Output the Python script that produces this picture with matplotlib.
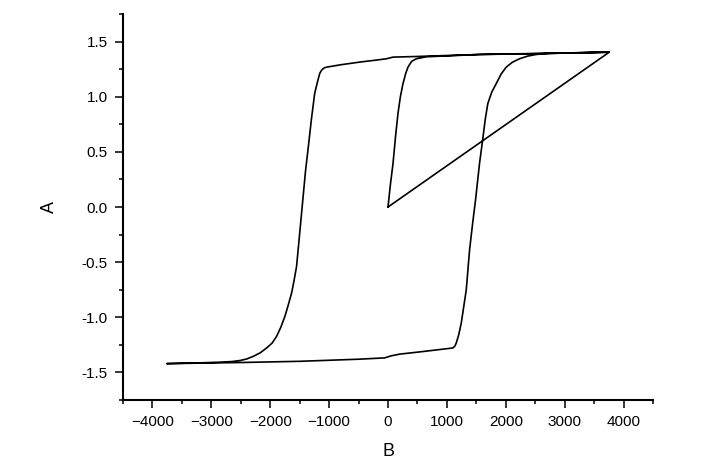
import numpy as np
import matplotlib
matplotlib.use("Agg")
import matplotlib.pyplot as plt
from matplotlib.ticker import MultipleLocator

plt.rcParams["font.family"] = ["Liberation Sans", "DejaVu Sans"]

# initial rise from the origin up to saturation
virgin_b = [0, 40, 85, 130, 169, 210, 254, 300, 339, 400, 480, 650, 1000, 1554, 2500, 3757]
virgin_a = [0.0, 0.20, 0.395, 0.65, 0.847, 1.00, 1.118, 1.21, 1.268, 1.32, 1.344, 1.362,
            1.370, 1.383, 1.392, 1.404]

# descending branch
desc_b = [3757, 2500, 1554, 500, 85, -27, -200, -480, -800, -1044, -1080, -1110, -1135,
          -1160, -1200, -1245, -1302, -1350, -1400, -1465, -1500, -1553, -1600, -1637,
          -1700, -1751, -1820, -1892, -1970, -2061, -2170, -2288, -2400, -2514, -2650,
          -2800, -3192, -3756]
desc_a = [1.404, 1.390, 1.383, 1.365, 1.359, 1.344, 1.332, 1.314, 1.290, 1.268, 1.262,
          1.250, 1.235, 1.21, 1.13, 1.03, 0.79, 0.56, 0.33, -0.04, -0.24, -0.54, -0.68,
          -0.78, -0.90, -0.992, -1.09, -1.173, -1.235, -1.278, -1.322, -1.354, -1.378,
          -1.392, -1.401, -1.406, -1.413, -1.420]

# ascending branch
asc_b = [-3756, -2500, -1497, -500, -56, 50, 197, 600, 1102, 1135, 1159, 1200, 1244, 1329,
         1385, 1441, 1486, 1554, 1610, 1650, 1695, 1760, 1837, 1920, 2007, 2110, 2232,
         2370, 2515, 2700, 3000, 3757]
asc_a = [-1.420, -1.410, -1.399, -1.380, -1.368, -1.350, -1.334, -1.310, -1.278, -1.262,
         -1.233, -1.16, -1.052, -0.750, -0.389, -0.130, 0.063, 0.395, 0.620, 0.790, 0.938,
         1.040, 1.118, 1.205, 1.268, 1.312, 1.344, 1.368, 1.383, 1.392, 1.396, 1.404]

# last point closes back on the origin
end_b = [0]
end_a = [0.0]

B = np.concatenate([virgin_b, desc_b, asc_b, end_b])
A = np.concatenate([virgin_a, desc_a, asc_a, end_a])

fig = plt.figure(figsize=(7.18, 4.73), dpi=100)
ax = fig.add_axes([0.1713, 0.1543, 0.7382, 0.8161])

ax.plot(B, A, color="black", linewidth=1.2)

ax.set_xlim(-4500, 4500)
ax.set_ylim(-1.75, 1.75)
ax.xaxis.set_major_locator(MultipleLocator(1000))
ax.xaxis.set_minor_locator(MultipleLocator(500))
ax.yaxis.set_major_locator(MultipleLocator(0.5))
ax.yaxis.set_minor_locator(MultipleLocator(0.25))
ax.yaxis.set_major_formatter(plt.FuncFormatter(lambda v, p: f"{v:.1f}"))

for side in ["top", "right"]:
    ax.spines[side].set_visible(False)
for side in ["left", "bottom"]:
    ax.spines[side].set_linewidth(1.5)

ax.tick_params(which="major", direction="out", length=6, width=1.1, labelsize=11, pad=5)
ax.tick_params(which="minor", direction="out", length=3, width=1.1)

ax.set_xlabel("B", fontsize=13, labelpad=10)
ax.set_ylabel("A", fontsize=13, labelpad=17)

fig.savefig("out.png", dpi=100, facecolor="white")
